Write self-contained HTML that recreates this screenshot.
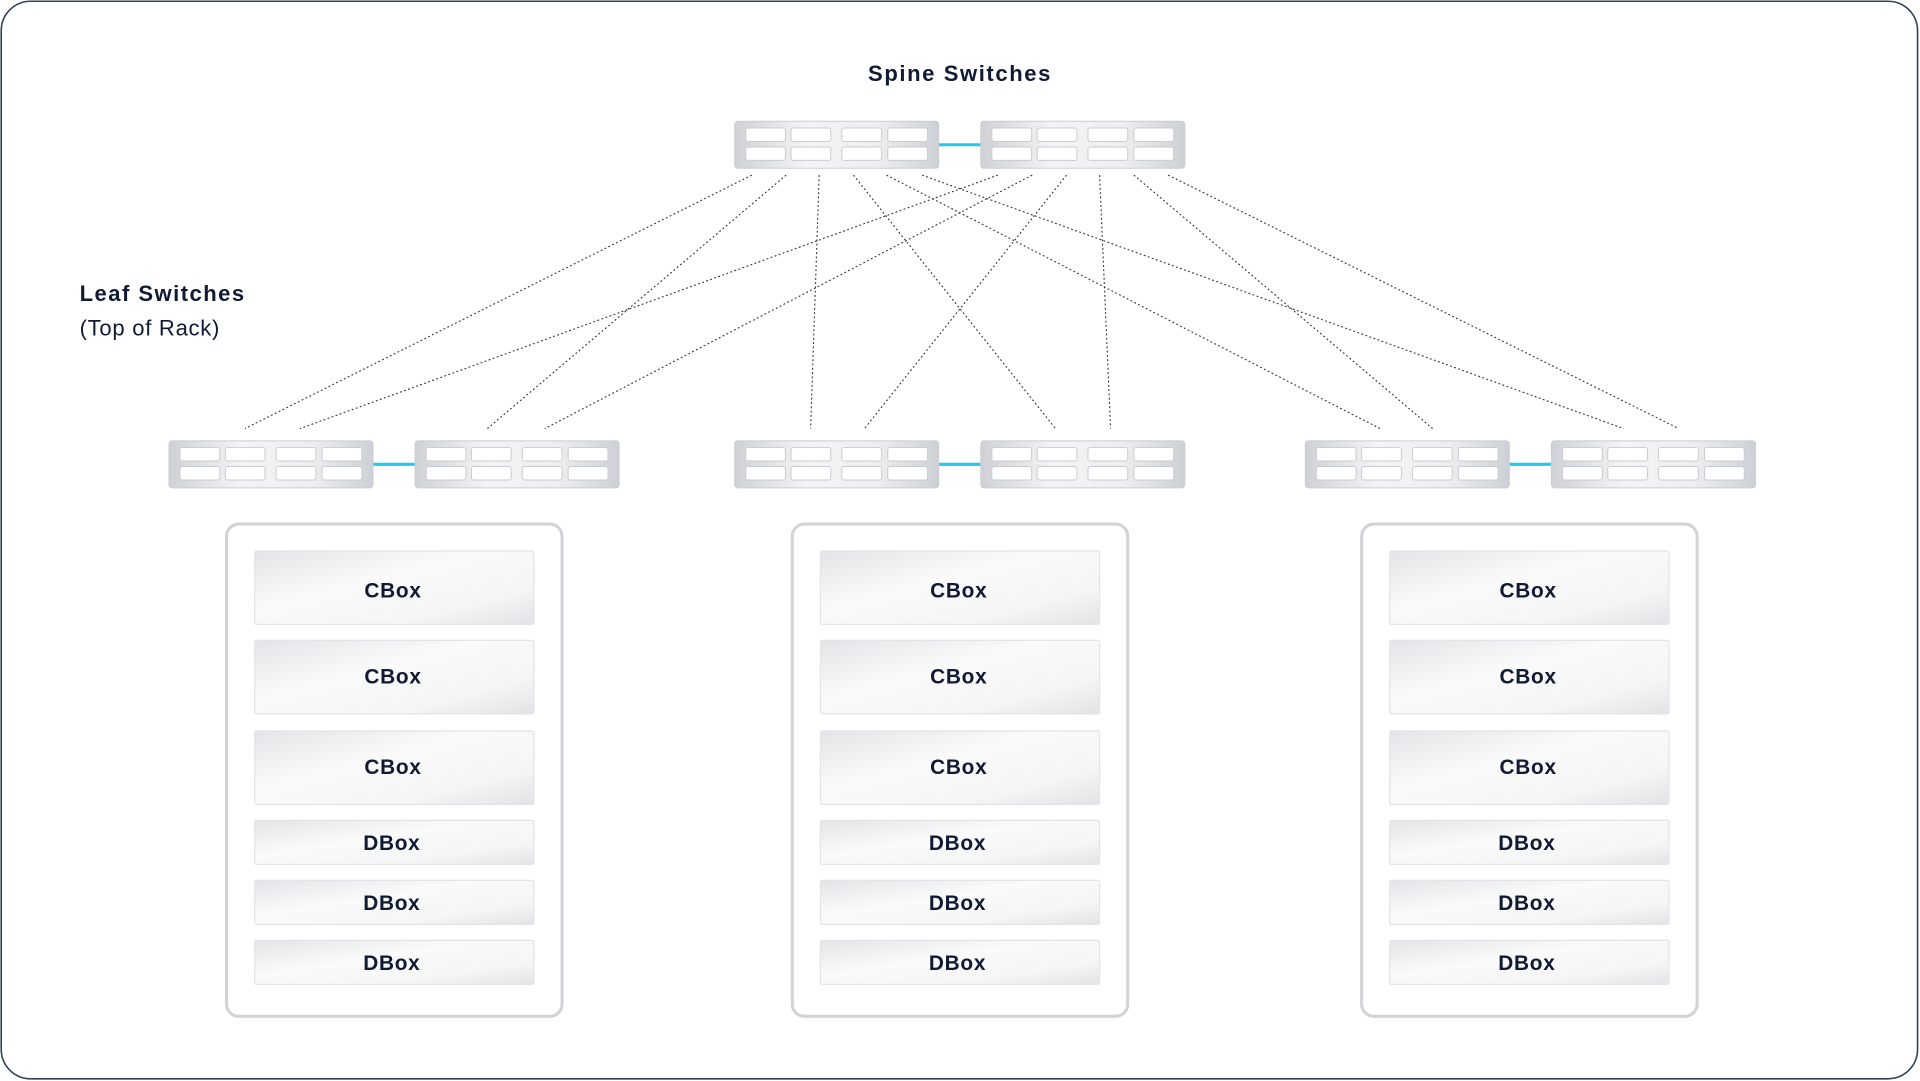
<!DOCTYPE html>
<html><head><meta charset="utf-8"><style>html,body{margin:0;padding:0;background:#fff}svg{display:block}</style></head>
<body>
<svg width="1920" height="1081" viewBox="0 0 1568 882.8" xmlns="http://www.w3.org/2000/svg" font-family="Liberation Sans, sans-serif">
<defs>
<linearGradient id="sw" x1="0" y1="0" x2="1" y2="0">
<stop offset="0" stop-color="#cfd1d6"/><stop offset="0.35" stop-color="#f4f4f6"/><stop offset="0.7" stop-color="#eeeef0"/><stop offset="1" stop-color="#cdd0d5"/></linearGradient>
<linearGradient id="bx" x1="0" y1="0" x2="1" y2="1">
<stop offset="0" stop-color="#e3e4e7"/><stop offset="0.4" stop-color="#fafafa"/><stop offset="0.75" stop-color="#f5f5f6"/><stop offset="1" stop-color="#e2e3e6"/></linearGradient>
<g id="switch">
<rect x="0" y="0" width="166.6" height="38.4" rx="2.5" fill="url(#sw)" stroke="#c9ccd1" stroke-width="0.8"/>
<g fill="#fff" stroke="#c8cbd0" stroke-width="0.8">
<rect x="9" y="5.5" width="32.5" height="11" rx="2"/><rect x="46" y="5.5" width="32.5" height="11" rx="2"/><rect x="87.5" y="5.5" width="32.5" height="11" rx="2"/><rect x="125" y="5.5" width="32.5" height="11" rx="2"/>
<rect x="9" y="21" width="32.5" height="11" rx="2"/><rect x="46" y="21" width="32.5" height="11" rx="2"/><rect x="87.5" y="21" width="32.5" height="11" rx="2"/><rect x="125" y="21" width="32.5" height="11" rx="2"/>
</g></g>
<g id="pair">
<line x1="166" y1="19.2" x2="201" y2="19.2" stroke="#22c8ea" stroke-width="2.5"/>
<use href="#switch" x="0" y="0"/><use href="#switch" x="201" y="0"/>
</g>
<g id="rack">
<rect x="0" y="0" width="274" height="402" rx="10" fill="#fff" stroke="#d1d3d7" stroke-width="2.5"/>
<g fill="url(#bx)" stroke="#e3e4e7" stroke-width="1">
<rect x="23" y="22" width="228" height="60" rx="1.5"/>
<rect x="23" y="95" width="228" height="60" rx="1.5"/>
<rect x="23" y="169" width="228" height="60" rx="1.5"/>
<rect x="23" y="242" width="228" height="36" rx="1.5"/>
<rect x="23" y="291" width="228" height="36" rx="1.5"/>
<rect x="23" y="340" width="228" height="36" rx="1.5"/>
</g>
<g fill="#111a33" font-weight="bold" font-size="17" text-anchor="middle" letter-spacing="0.6">
<text x="136" y="60">CBox</text><text x="136" y="130">CBox</text><text x="136" y="204">CBox</text>
<text x="135" y="266">DBox</text><text x="135" y="315">DBox</text><text x="135" y="364">DBox</text>
</g></g>
</defs>
<rect x="1" y="1" width="1565" height="880" rx="24" fill="#fff" stroke="#2f4257" stroke-width="1.3"/>
<g stroke="#2a3340" stroke-width="0.9" stroke-dasharray="1.5 2" fill="none">
<line x1="614" y1="143" x2="200" y2="350"/>
<line x1="642" y1="143" x2="398" y2="350"/>
<line x1="669" y1="143" x2="662" y2="350"/>
<line x1="697" y1="143" x2="862" y2="350"/>
<line x1="724" y1="143" x2="1127" y2="350"/>
<line x1="753" y1="143" x2="1326" y2="350"/>
<line x1="815" y1="143" x2="245" y2="350"/>
<line x1="843" y1="143" x2="445" y2="350"/>
<line x1="871" y1="143" x2="706" y2="350"/>
<line x1="898" y1="143" x2="907" y2="350"/>
<line x1="926" y1="143" x2="1170" y2="350"/>
<line x1="954" y1="143" x2="1371" y2="350"/>
</g>
<text x="784" y="66" text-anchor="middle" font-size="18" font-weight="bold" fill="#111a33" letter-spacing="1.3">Spine Switches</text>
<text x="65" y="246" font-size="18" font-weight="bold" fill="#111a33" letter-spacing="1.2">Leaf Switches</text>
<text x="65" y="274" font-size="18" fill="#111a33" letter-spacing="0.6">(Top of Rack)</text>
<use href="#pair" x="600" y="99"/>
<use href="#pair" x="138" y="360"/>
<use href="#pair" x="600" y="360"/>
<use href="#pair" x="1066" y="360"/>
<use href="#rack" x="185" y="428"/>
<use href="#rack" x="647" y="428"/>
<use href="#rack" x="1112" y="428"/>
</svg>
</body></html>
